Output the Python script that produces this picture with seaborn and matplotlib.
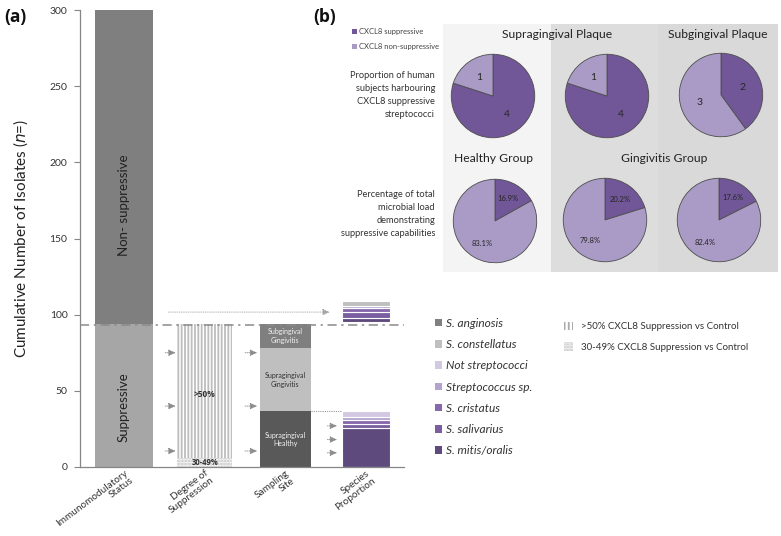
import matplotlib
matplotlib.use("Agg")
import matplotlib.pyplot as plt
import matplotlib.transforms as mtransforms
import seaborn as sns
from matplotlib.patches import Patch, Rectangle

# ---------------- data ----------------
categories = ["Immunomodulatory\nStatus", "Degree of\nSuppression", "Sampling\nSite", "Species\nProportion"]
status_labels = ["Suppressive", "Non- suppressive"]
status_values = [94, 206]
degree_labels = ["30-49%", ">50%"]
degree_values = [6, 88]
site_labels = ["Supragingival\nHealthy", "Supragingival\nGingivitis", "Subgingival\nGingivitis"]
site_values = [37, 41, 16]
species_names = ["S. mitis/oralis", "S. salivarius", "S. cristatus", "Streptococcus sp.",
                 "Not streptococci", "S. constellatus", "S. anginosis"]
species_healthy = [25.5, 3, 2.5, 1.5, 4.5, 0, 0]
species_gingivitis = [3, 4, 2.5, 1, 0.5, 3, 0]
gingivitis_bar_base = 95
y_ticks = [0, 50, 100, 150, 200, 250, 300]

pie_groups = ["CXCL8 suppressive", "CXCL8 non-suppressive"]
subjects_supra_healthy = [4, 1]
subjects_supra_gingivitis = [4, 1]
subjects_sub_gingivitis = [2, 3]
load_healthy = [16.9, 83.1]
load_supra_gingivitis = [20.2, 79.8]
load_sub_gingivitis = [17.6, 82.4]

# ---------------- style ----------------
sns.set_theme(style="white")
plt.rcParams["font.family"] = ["Lato", "DejaVu Sans"]
plt.rcParams["hatch.linewidth"] = 1.3

W, H = 781, 536
fig = plt.figure(figsize=(W / 100, H / 100), dpi=100)

def fx(px):
    return px / W

def fy(py):
    return 1 - py / H

status_colors = ["#a6a6a6", "#7f7f7f"]
site_colors = ["#595959", "#bfbfbf", "#7f7f7f"]
site_text = ["#f2f2f2", "#333333", "#f2f2f2"]
species_colors = ["#5f4a7d", "#7a5e9f", "#8868ad", "#b3a3cd", "#d2c8e2", "#bfbfbf", "#808080"]
hatch_col = "#bdbdbd"
bold_family = ["Open Sans", "DejaVu Sans"]

# ---------------- panel (a) ----------------
ax = fig.add_axes([fx(80), fy(467), fx(404) - fx(80), fy(10) - fy(467)])
x = list(range(len(categories)))

# Immunomodulatory status
bottom = 0
for lab, v, c in zip(status_labels, status_values, status_colors):
    ax.bar(x[0], v, bottom=bottom, width=0.72, color=c, linewidth=0)
    bottom += v
ax.text(x[0], 172, status_labels[1], rotation=90, ha="center", va="center", fontsize=9.5, color="#222222")
ax.text(x[0], 39, status_labels[0], rotation=90, ha="center", va="center", fontsize=9.5, color="#222222")

# Degree of suppression
ax.bar(x[1], degree_values[0], bottom=0, width=0.68, facecolor="white", edgecolor=hatch_col,
       hatch="......", linewidth=0)
ax.bar(x[1], degree_values[1], bottom=degree_values[0], width=0.68, facecolor="white",
       edgecolor=hatch_col, hatch="|||||", linewidth=0)
ax.text(x[1], 47.5, degree_labels[1], ha="center", va="center", fontsize=6, fontweight="bold",
        color="#333333", family=bold_family)
ax.text(x[1], 3.2, degree_labels[0], ha="center", va="center", fontsize=5.5, fontweight="bold",
        color="#333333", family=bold_family)

# Sampling site
bottom = 0
for lab, v, c in zip(site_labels, site_values, site_colors):
    ax.bar(x[2], v, bottom=bottom, width=0.63, color=c, linewidth=0)
    bottom += v
label_y = [18, 57, 86]
for lab, yy, tc in zip(site_labels, label_y, site_text):
    ax.text(x[2], yy, lab, ha="center", va="center", fontsize=5, color=tc, linespacing=1.25)

# Species proportion (healthy bottom, gingivitis floating)
bottom = 0
for v, c in zip(species_healthy, species_colors):
    if v > 0:
        ax.bar(x[3], v, bottom=bottom, width=0.6, color=c, edgecolor="white", linewidth=0.8)
    bottom += v
bottom = gingivitis_bar_base
for v, c in zip(species_gingivitis, species_colors):
    if v > 0:
        ax.bar(x[3], v, bottom=bottom, width=0.6, color=c, edgecolor="white", linewidth=0.8)
    bottom += v

# reference lines
total_supp = status_values[0]
ax.axhline(total_supp - 0.5, color="#8a8a8a", linewidth=1.1, linestyle=(0, (6, 3, 1.5, 3)), zorder=3)
ax.plot([x[2] + 0.315, x[3] - 0.3], [site_values[0]] * 2, color="#999999", linewidth=0.8,
        linestyle=(0, (1, 1)))

arrow_kw = dict(arrowstyle="-|>,head_length=0.35,head_width=0.16", color="#8c8c8c", linewidth=0.6,
                linestyle=(0, (1.2, 1.2)), shrinkA=0, shrinkB=0)
long_kw = dict(arrow_kw, color="#a6a6a6", linestyle=(0, (1, 1.6)))
ax.annotate("", xy=(2.55, 101.7), xytext=(0.55, 101.7), arrowprops=long_kw)
for x0, x1, ys in [(0.51, 0.64, [75, 40, 10.5]), (1.50, 1.65, [75, 40, 10.5]), (2.52, 2.64, [27, 18, 9.3])]:
    for yy in ys:
        ax.annotate("", xy=(x1, yy), xytext=(x0, yy), arrowprops=arrow_kw)

ax.set_xlim(-0.545, 3.47)
ax.set_ylim(0, 300)
ax.set_yticks(y_ticks)
ax.set_yticklabels([str(t) for t in y_ticks], fontsize=7.5, color="#333333")
ax.set_xticks(x)
ax.set_xticklabels(categories, rotation=37, ha="right", rotation_mode="anchor", fontsize=7.2,
                   color="#333333", linespacing=1.05)
offset = mtransforms.ScaledTranslation(7 / 100, 3 / 100, fig.dpi_scale_trans)
for lbl in ax.get_xticklabels():
    lbl.set_transform(lbl.get_transform() + offset)
ax.tick_params(axis="y", direction="out", length=4, width=0.8, color="#868686", left=True, pad=5)
ax.tick_params(axis="x", length=0, pad=1)
sns.despine(ax=ax)
for s in ["left", "bottom"]:
    ax.spines[s].set_color("#868686")
    ax.spines[s].set_linewidth(0.9)
ax.set_ylabel(r"Cumulative Number of Isolates ($\it{n}$=)", fontsize=11, color="#222222", labelpad=14)
ax.patch.set_alpha(0)

# legend for species
sp_handles = [Patch(facecolor=c, edgecolor="none", label=n)
              for n, c in zip(species_names[::-1], species_colors[::-1])]
leg1 = ax.legend(handles=sp_handles, loc="upper left", bbox_to_anchor=(fx(430), fy(313)),
                 bbox_transform=fig.transFigure, frameon=False, prop={"style": "italic", "size": 8.6},
                 handlelength=0.6, handleheight=0.6, handletextpad=0.35, labelspacing=0.86, borderaxespad=0)
for t in leg1.get_texts():
    t.set_color("#333333")
ax.add_artist(leg1)
hatch_handles = [Patch(facecolor="white", edgecolor="#aaaaaa", hatch="||||", linewidth=0,
                       label=">50% CXCL8 Suppression vs Control"),
                 Patch(facecolor="white", edgecolor="#bbbbbb", hatch="......", linewidth=0,
                       label="30-49% CXCL8 Suppression vs Control")]
leg2 = ax.legend(handles=hatch_handles, loc="upper left", bbox_to_anchor=(fx(560), fy(318)),
                 bbox_transform=fig.transFigure, frameon=False, fontsize=7,
                 handlelength=0.9, handleheight=0.9, handletextpad=0.9, labelspacing=1.15, borderaxespad=0)
for t in leg2.get_texts():
    t.set_color("#333333")

# ---------------- panel (b) ----------------
for (x0, x1, col) in [(443, 551, "#f4f4f4"), (551, 658, "#dddddd"), (658, 778, "#d9d9d9")]:
    fig.patches.append(Rectangle((fx(x0), fy(272)), fx(x1) - fx(x0), fy(24) - fy(272),
                                 transform=fig.transFigure, facecolor=col, edgecolor="none", zorder=-1))

pie_dark = "#715797"
pie_light = "#a99bc6"
R = 42
pie_specs = [
    ((493, 96), subjects_supra_healthy, "count"),
    ((607, 96), subjects_supra_gingivitis, "count"),
    ((721, 95), subjects_sub_gingivitis, "count"),
    ((495, 221), load_healthy, "pct"),
    ((605, 220), load_supra_gingivitis, "pct"),
    ((719, 220), load_sub_gingivitis, "pct"),
]
for (cx, cy), vals, kind in pie_specs:
    pax = fig.add_axes([fx(cx - R - 1), fy(cy + R + 1), fx(2 * R + 2), fy(0) - fy(2 * R + 2)])
    pax.patch.set_alpha(0)
    total = sum(vals)
    if kind == "count":
        fmt = (lambda t: (lambda p: f"{int(round(p * t / 100))}"))(total)
        pdist, fs = 0.55, 7.5
    else:
        fmt = "%.1f%%"
        pdist, fs = 0.62, 5.5
    pax.pie(vals, colors=[pie_dark, pie_light], startangle=90, counterclock=False,
            autopct=fmt, pctdistance=pdist,
            wedgeprops=dict(edgecolor="#4d4d4d", linewidth=0.6),
            textprops=dict(fontsize=fs, color="#262626"))
    pax.set_xlim(-1.03, 1.03)
    pax.set_ylim(-1.03, 1.03)
    pax.set_aspect("equal")
    pax.axis("off")

title_kw = dict(ha="center", va="center", fontsize=8.7, color="#222222")
fig.text(fx(557), fy(34), "Supragingival Plaque", **title_kw)
fig.text(fx(718), fy(34), "Subgingival Plaque", **title_kw)
fig.text(fx(494), fy(159), "Healthy Group", **title_kw)
fig.text(fx(664), fy(159), "Gingivitis Group", **title_kw)

side_kw = dict(ha="right", va="center", fontsize=6.7, color="#333333", linespacing=1.55)
fig.text(fx(435), fy(95), "Proportion of human\nsubjects harbouring\nCXCL8 suppressive\nstreptococci", **side_kw)
fig.text(fx(435), fy(214), "Percentage of total\nmicrobial load\ndemonstrating\nsuppressive capabilities", **side_kw)

pie_handles = [Patch(facecolor=pie_dark, edgecolor="none", label=pie_groups[0]),
               Patch(facecolor=pie_light, edgecolor="none", label=pie_groups[1])]
leg3 = fig.legend(handles=pie_handles, loc="upper left", bbox_to_anchor=(fx(349), fy(25)), frameon=False,
                  fontsize=5.5, handlelength=0.7, handleheight=0.7, handletextpad=0.2, labelspacing=1.1,
                  borderaxespad=0)
for t in leg3.get_texts():
    t.set_color("#444444")

fig.text(fx(4), fy(17), "(a)", ha="left", va="center", fontsize=12.5, fontweight="bold",
         color="#111111", family=bold_family)
fig.text(fx(313), fy(17), "(b)", ha="left", va="center", fontsize=12.5, fontweight="bold",
         color="#111111", family=bold_family)

fig.savefig("out.png", dpi=100)
